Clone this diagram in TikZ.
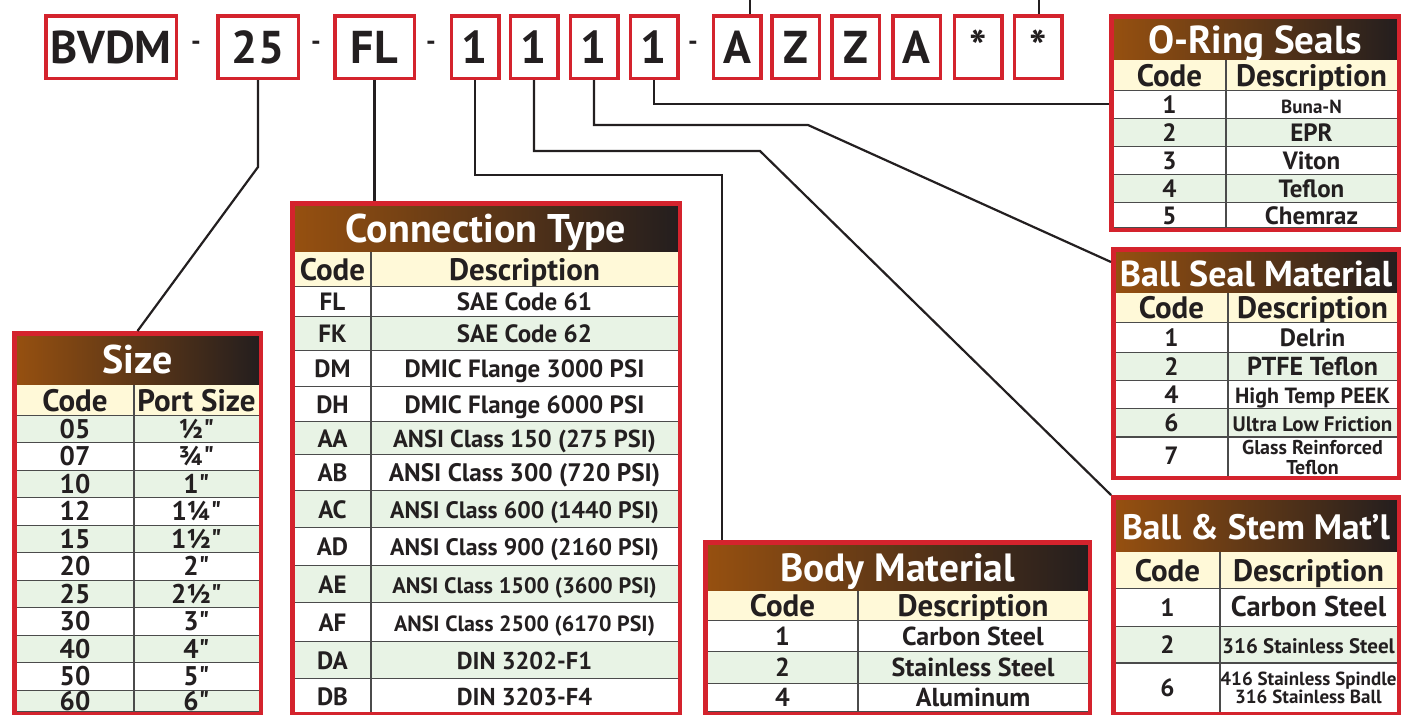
\documentclass[tikz,border=0pt]{standalone}
\usepackage{fontspec}
\setmainfont{PT Sans}[Ligatures=TeXOff]
\usetikzlibrary{calc}
\definecolor{valvered}{RGB}{212,35,45}
\definecolor{hdbrown}{RGB}{150,80,16}
\definecolor{hddark}{RGB}{36,30,30}
\definecolor{hdyellow}{RGB}{255,249,216}
\definecolor{rowgreen}{RGB}{232,243,229}
\definecolor{ink}{RGB}{35,31,32}
\definecolor{rulegray}{RGB}{75,75,75}
\newcommand\fsz[1]{\fontsize{#1}{#1}\selectfont}

\begin{document}
\begin{tikzpicture}[
  x=1pt, y=-1pt,
  codebox/.style={
    draw=valvered, line width=3.5pt, fill=white,
    minimum width=47.5pt, minimum height=62.5pt, inner sep=0pt,
    font=\fsz{46}\bfseries, text=ink
  },
  dashmark/.style={inner sep=0pt, font=\fsz{27}\bfseries, text=ink},
  tabframe/.style={draw=valvered, line width=4.5pt, anchor=north west, inner sep=0pt},
  tabtitle/.style={font=\fsz{40}\bfseries, text=white, text height=27pt, text depth=0pt, inner sep=0pt},
  tabhead/.style={font=\fsz{31}\bfseries, text=ink, text height=21.5pt, text depth=0pt, inner sep=0pt},
  tabcell/.style={font=\fsz{25}\bfseries, text=ink, text height=17.5pt, text depth=0pt, inner sep=0pt},
  tabcell2/.style={font=\bfseries, text=ink, align=center, inner sep=0pt},
  band/.style={left color=hdbrown, right color=hddark},
  rowrule/.style={draw=rulegray, line width=1.4pt},
  lead/.style={draw=ink, line width=2.2pt}
]
\useasboundingbox (0,0) rectangle (1401,715);

% Size table.
\shade[band] (16,335) rectangle (259,385);
\node[tabtitle] (sizetitle) at (137.5,360) {Size};
\fill[hdyellow] (16,385) rectangle (259,416);
\node[tabhead] (sizecode) at (75,401) {Code};
\node[tabhead] (sizeport) at (196.5,401) {Port Size};
\draw[rowrule] (16,416) -- (259,416);
\foreach \yb/\code/\desc/\tone [remember=\yb as \ya (initially 416)] in {
  443/05/½"/rowgreen, 471/07/¾"/white, 498/10/1"/rowgreen, 526/12/1¼"/white,
  553/15/1½"/rowgreen, 581/20/2"/white, 608/25/2½"/rowgreen, 636/30/3"/white,
  663/40/4"/rowgreen, 691/50/5"/white, 712/60/6"/rowgreen}{
  \fill[\tone] (16,\ya) rectangle (259,\yb);
  \draw[rowrule] (16,\yb) -- (259,\yb);
  \node[tabcell, font=\fsz{27}\bfseries] (sz\code) at (75,{(\ya+\yb)/2}) {\code};
  \node[tabcell, font=\fsz{27}\bfseries] (szd\code) at (196.5,{(\ya+\yb)/2}) {\desc};
}
\draw[rowrule] (134,385) -- (134,716);
\node[tabframe, minimum width=246.5pt, minimum height=380.5pt] (sizetab) at (12,331) {};

% Connection type table.
\shade[band] (294,205) rectangle (678,252);
\node[tabtitle] (conntitle) at (486,229) {Connection Type};
\fill[hdyellow] (294,252) rectangle (678,287);
\node[tabhead] (conncode) at (332.5,270) {Code};
\node[tabhead] (conndesc) at (524.5,270) {Description};
\draw[rowrule] (294,287) -- (678,287);
\foreach \yb/\code/\desc/\tone [remember=\yb as \ya (initially 287)] in {
  317/FL/SAE Code 61/white, 351/FK/SAE Code 62/rowgreen,
  387/DM/DMIC Flange 3000 PSI/white, 422/DH/DMIC Flange 6000 PSI/white,
  455/AA/{\fsz{24.5}ANSI Class 150 (275 PSI)}/rowgreen,
  491/AB/{\fsz{25.3}ANSI Class 300 (720 PSI)}/white,
  528/AC/{\fsz{23.8}ANSI Class 600 (1440 PSI)}/rowgreen,
  566/AD/{\fsz{23.8}ANSI Class 900 (2160 PSI)}/white,
  603/AE/{\fsz{22.3}ANSI Class 1500 (3600 PSI)}/rowgreen,
  642/AF/{\fsz{22}ANSI Class 2500 (6170 PSI)}/white,
  679/DA/{\fsz{24.4}DIN 3202-F1}/rowgreen, 714/DB/{\fsz{24.4}DIN 3203-F4}/white}{
  \fill[\tone] (294,\ya) rectangle (678,\yb);
  \draw[rowrule] (294,\yb) -- (678,\yb);
  \node[tabcell] (ct\code) at (332.5,{(\ya+\yb)/2}) {\code};
  \node[tabcell] (ctd\code) at (524.5,{(\ya+\yb)/2}) {\desc};
}
\draw[rowrule] (371,252) -- (371,716);
\node[tabframe, minimum width=387.5pt, minimum height=510.5pt] (conntab) at (290,201) {};

% Body material table.
\shade[band] (707,545) rectangle (1088,591);
\node[tabtitle, font=\fsz{39.4}\bfseries] (bodytitle) at (897.5,568) {Body Material};
\fill[hdyellow] (707,591) rectangle (1088,621);
\node[tabhead] (bodycode) at (782.5,606) {Code};
\node[tabhead] (bodydesc) at (973,606) {Description};
\draw[rowrule] (707,621) -- (1088,621);
\foreach \yb/\code/\desc/\tone [remember=\yb as \ya (initially 621)] in {
  652/1/Carbon Steel/white, 684/2/Stainless Steel/rowgreen, 712/4/Aluminum/white}{
  \fill[\tone] (707,\ya) rectangle (1088,\yb);
  \draw[rowrule] (707,\yb) -- (1088,\yb);
  \node[tabcell, font=\fsz{26}\bfseries] (bm\code) at (782.5,{(\ya+\yb)/2}) {\code};
  \node[tabcell, font=\fsz{26}\bfseries] (bmd\code) at (973,{(\ya+\yb)/2}) {\desc};
}
\draw[rowrule] (858,591) -- (858,716);
\node[tabframe, minimum width=384.5pt, minimum height=171.5pt] (bodytab) at (703,540) {};

% O-ring seals table.
\shade[band] (1113,18) rectangle (1397,60);
\node[tabtitle, font=\fsz{39}\bfseries] (oringtitle) at (1255,39.5) {O-Ring Seals};
\fill[hdyellow] (1113,60) rectangle (1397,91);
\node[tabhead] (oringcode) at (1169.5,75.5) {Code};
\node[tabhead] (oringdesc) at (1311.5,75.5) {Description};
\draw[rowrule] (1113,91) -- (1397,91);
\foreach \yb/\code/\desc/\tone [remember=\yb as \ya (initially 91)] in {
  119/1/{\fsz{19}Buna-N}/white, 147/2/EPR/rowgreen, 175/3/Viton/white,
  203/4/Teflon/rowgreen, 228/5/Chemraz/white}{
  \fill[\tone] (1113,\ya) rectangle (1397,\yb);
  \draw[rowrule] (1113,\yb) -- (1397,\yb);
  \node[tabcell] (or\code) at (1169.5,{(\ya+\yb)/2}) {\code};
  \node[tabcell] (ord\code) at (1311.5,{(\ya+\yb)/2}) {\desc};
}
\draw[rowrule] (1226,60) -- (1226,230);
\node[tabframe, minimum width=287.5pt, minimum height=213.5pt] (oringtab) at (1109,14) {};

% Ball seal material table.
\shade[band] (1115,252) rectangle (1397,293);
\node[tabtitle, font=\fsz{36}\bfseries] (sealtitle) at (1256,272.5) {Ball Seal Material};
\fill[hdyellow] (1115,293) rectangle (1397,323);
\node[tabhead] (sealcode) at (1171.5,308) {Code};
\node[tabhead] (sealdesc) at (1312.5,308) {Description};
\draw[rowrule] (1115,323) -- (1397,323);
\foreach \yb/\code/\desc/\tone [remember=\yb as \ya (initially 323)] in {
  353/1/Delrin/white, 381/2/{\fsz{26}PTFE Teflon}/rowgreen,
  409/4/{\fsz{22}High Temp PEEK}/white, 437/6/{\fsz{21}Ultra Low Friction}/rowgreen}{
  \fill[\tone] (1115,\ya) rectangle (1397,\yb);
  \draw[rowrule] (1115,\yb) -- (1397,\yb);
  \node[tabcell] (bs\code) at (1171.5,{(\ya+\yb)/2}) {\code};
  \node[tabcell] (bsd\code) at (1312.5,{(\ya+\yb)/2}) {\desc};
}
\node[tabcell] (bs7) at (1171.5,456) {7};
\node[tabcell2, font=\fontsize{20}{20}\selectfont\bfseries] (bsd7) at (1312.5,457) {Glass Reinforced\\Teflon};
\draw[rowrule] (1228,293) -- (1228,478);
\node[tabframe, minimum width=285.5pt, minimum height=228.5pt] (sealtab) at (1111,247) {};

% Ball and stem material table.
\shade[band] (1115,499) rectangle (1397,552);
\node[tabtitle, font=\fsz{35.3}\bfseries] (stemtitle) at (1256,525.5) {Ball \& Stem Mat’l};
\fill[hdyellow] (1115,552) rectangle (1397,589);
\node[tabhead] (stemcode) at (1167.5,570.5) {Code};
\node[tabhead] (stemdesc) at (1308.5,570.5) {Description};
\draw[rowrule] (1115,589) -- (1397,589);
\foreach \yb/\code/\desc/\tone [remember=\yb as \ya (initially 589)] in {
  627/1/{\fsz{28.5}Carbon Steel}/white, 663/2/{\fsz{21}316 Stainless Steel}/rowgreen}{
  \fill[\tone] (1115,\ya) rectangle (1397,\yb);
  \draw[rowrule] (1115,\yb) -- (1397,\yb);
  \node[tabcell] (st\code) at (1167.5,{(\ya+\yb)/2}) {\code};
  \node[tabcell] (std\code) at (1308.5,{(\ya+\yb)/2}) {\desc};
}
\node[tabcell] (st6) at (1167.5,687.5) {6};
\node[tabcell2, font=\fontsize{19}{17}\selectfont\bfseries] (std6) at (1308.5,688) {416 Stainless Spindle\\316 Stainless Ball};
\draw[rowrule] (1220,552) -- (1220,716);
\node[tabframe, minimum width=285.5pt, minimum height=216.5pt] (stemtab) at (1111,495) {};

% Part number boxes.
\node[codebox, minimum width=130.5pt] (bvdm) at (111,47) {BVDM};
\node[dashmark] (dash1) at (196,45.5) {-};
\node[codebox, minimum width=80.5pt] (szbox) at (258,47) {25};
\node[dashmark] (dash2) at (316,45.5) {-};
\node[codebox, minimum width=79.5pt] (flbox) at (374.5,47) {FL};
\node[dashmark] (dash3) at (431,45.5) {-};
\node[codebox] (dig1) at (475,47) {1};
\node[codebox] (dig2) at (534,47) {1};
\node[codebox] (dig3) at (594,47) {1};
\node[codebox] (dig4) at (654,47) {1};
\node[dashmark] (dash4) at (693,45.5) {-};
\node[codebox] (ltrA) at (737,47) {A};
\node[codebox] (ltrZ) at (795.5,47) {Z};
\node[codebox] (ltrZb) at (855.5,47) {Z};
\node[codebox] (ltrAb) at (916.5,47) {A};
\node[codebox] (star1) at (978,47) {*};
\node[codebox] (star2) at (1038,47) {*};

% Leader lines from each code position to its table.
\coordinate (bodybend) at (722,175);
\coordinate (stembend) at (760,151);
\coordinate (sealbend) at (808,125);
\coordinate (topA) at (750,0);
\coordinate (topstar) at (1039,0);
\draw[lead] (szbox.south) -- ++(0,87) -- (sizetab.north);
\draw[lead] (flbox.south) -- (flbox.south |- conntab.north);
\draw[lead] (dig1.south) |- (bodybend) -- (bodybend |- bodytab.north);
\draw[lead] (dig2.south) |- (stembend) -- (stemtab.north west);
\draw[lead] (dig3.south) |- (sealbend) -- ([yshift=-15pt]sealtab.north west);
\draw[lead] (dig4.south) |- ([yshift=-90pt]oringtab.north west);
\draw[lead] (topA) -- (topA |- ltrA.north);
\draw[lead] (topstar) -- (topstar |- star2.north);

\end{tikzpicture}
\end{document}
